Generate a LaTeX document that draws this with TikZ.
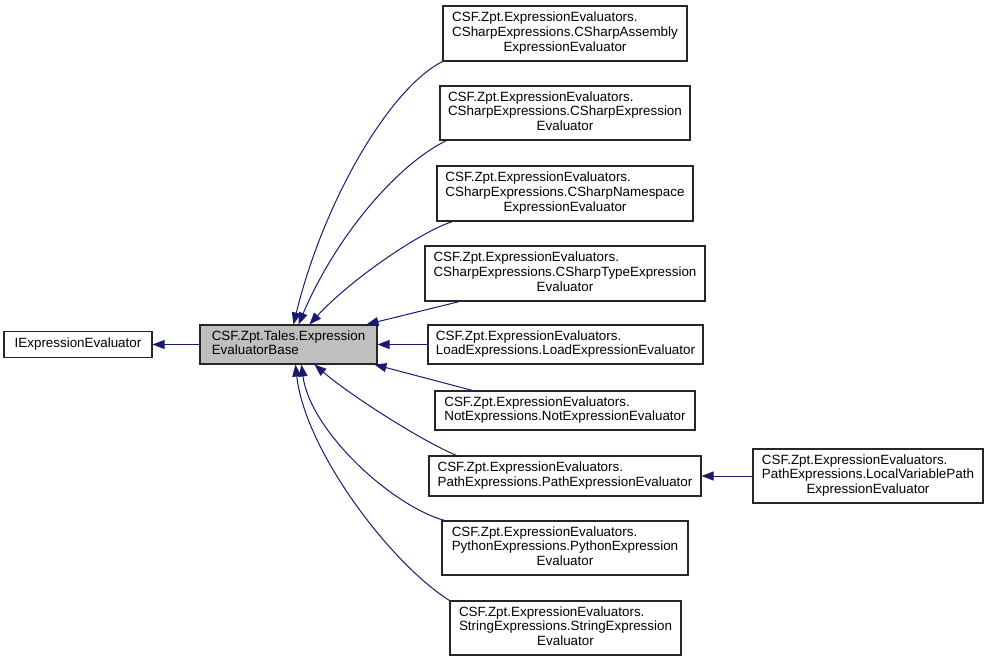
\documentclass[tikz,border=0pt]{standalone}
\usepackage{fontspec}
\setmainfont{Liberation Sans}
\usetikzlibrary{arrows.meta}
\definecolor{edgeblue}{HTML}{191970}
\definecolor{basegray}{HTML}{BFBFBF}
\newcommand{\threelab}[3]{\begin{tabular}{@{}l@{}}#1\\#2\\\multicolumn{1}{@{}c@{}}{#3}\end{tabular}}
\newcommand{\twolab}[2]{\begin{tabular}{@{}l@{}}#1\\#2\end{tabular}}
\begin{document}
\begin{tikzpicture}[x=1pt,y=-1pt,
  cls/.style={draw=black!85, line width=1.1pt, inner sep=0pt, font=\fontsize{13.4}{14.6}\selectfont, text=black},
  edge/.style={draw=edgeblue, line width=1pt, -{Triangle[length=12pt,width=9pt]}}]
\useasboundingbox (0,0) rectangle (989,661);
\node[cls, minimum width=148pt, minimum height=26pt] (ie) at (78,344.5) {IExpressionEvaluator};
\node[cls, fill=basegray, minimum width=177pt, minimum height=39pt] (base) at (288.5,344.5) {\twolab{CSF.Zpt.Tales.Expression}{EvaluatorBase}};
\node[cls, minimum width=244pt, minimum height=55pt] (b1) at (565,33.5) {\threelab{CSF.Zpt.ExpressionEvaluators.}{CSharpExpressions.CSharpAssembly}{ExpressionEvaluator}};
\node[cls, minimum width=250pt, minimum height=54pt] (b2) at (565,113) {\threelab{CSF.Zpt.ExpressionEvaluators.}{CSharpExpressions.CSharpExpression}{Evaluator}};
\node[cls, minimum width=256pt, minimum height=55pt] (b3) at (565,193.5) {\threelab{CSF.Zpt.ExpressionEvaluators.}{CSharpExpressions.CSharpNamespace}{ExpressionEvaluator}};
\node[cls, minimum width=280pt, minimum height=55pt] (b4) at (565,273.5) {\threelab{CSF.Zpt.ExpressionEvaluators.}{CSharpExpressions.CSharpTypeExpression}{Evaluator}};
\node[cls, minimum width=275pt, minimum height=39pt] (b5) at (565.5,344.5) {\twolab{CSF.Zpt.ExpressionEvaluators.}{LoadExpressions.LoadExpressionEvaluator}};
\node[cls, minimum width=260pt, minimum height=39pt] (b6) at (565,410.5) {\twolab{CSF.Zpt.ExpressionEvaluators.}{NotExpressions.NotExpressionEvaluator}};
\node[cls, minimum width=272pt, minimum height=40pt] (b7) at (565,476) {\twolab{CSF.Zpt.ExpressionEvaluators.}{PathExpressions.PathExpressionEvaluator}};
\node[cls, minimum width=246pt, minimum height=54pt] (b8) at (565,548) {\threelab{CSF.Zpt.ExpressionEvaluators.}{PythonExpressions.PythonExpression}{Evaluator}};
\node[cls, minimum width=231pt, minimum height=54pt] (b9) at (565.5,628) {\threelab{CSF.Zpt.ExpressionEvaluators.}{StringExpressions.StringExpression}{Evaluator}};
\node[cls, minimum width=230pt, minimum height=54pt] (b10) at (868,476) {\threelab{CSF.Zpt.ExpressionEvaluators.}{PathExpressions.LocalVariablePath}{ExpressionEvaluator}};
\draw[edge] (b1.south west) .. controls (390,88) and (324,200) .. ([xshift=94pt]base.north west);
\draw[edge] ([xshift=7pt]b2.south west) .. controls (400,163) and (338,232) .. ([xshift=99pt]base.north west);
\draw[edge] ([xshift=16pt]b3.south west) .. controls (420,232) and (350,280) .. ([xshift=110pt]base.north west);
\draw[edge] ([xshift=35pt]b4.south west) -- ([xshift=167pt]base.north west);
\draw[edge] (b5.west) -- (base.east);
\draw[edge] ([xshift=38pt]b6.north west) -- ([xshift=175pt]base.south west);
\draw[edge] ([xshift=28pt]b7.north west) .. controls (420,440) and (350,395) .. ([xshift=115pt]base.south west);
\draw[edge] ([xshift=3pt]b8.north west) .. controls (390,505) and (310,430) .. ([xshift=102pt]base.south west);
\draw[edge] (b9.north west) .. controls (390,563) and (305,450) .. ([xshift=96pt]base.south west);
\draw[edge] (b10.west) -- (b7.east);
\draw[edge] (base.west) -- (ie.east);
\end{tikzpicture}
\end{document}
